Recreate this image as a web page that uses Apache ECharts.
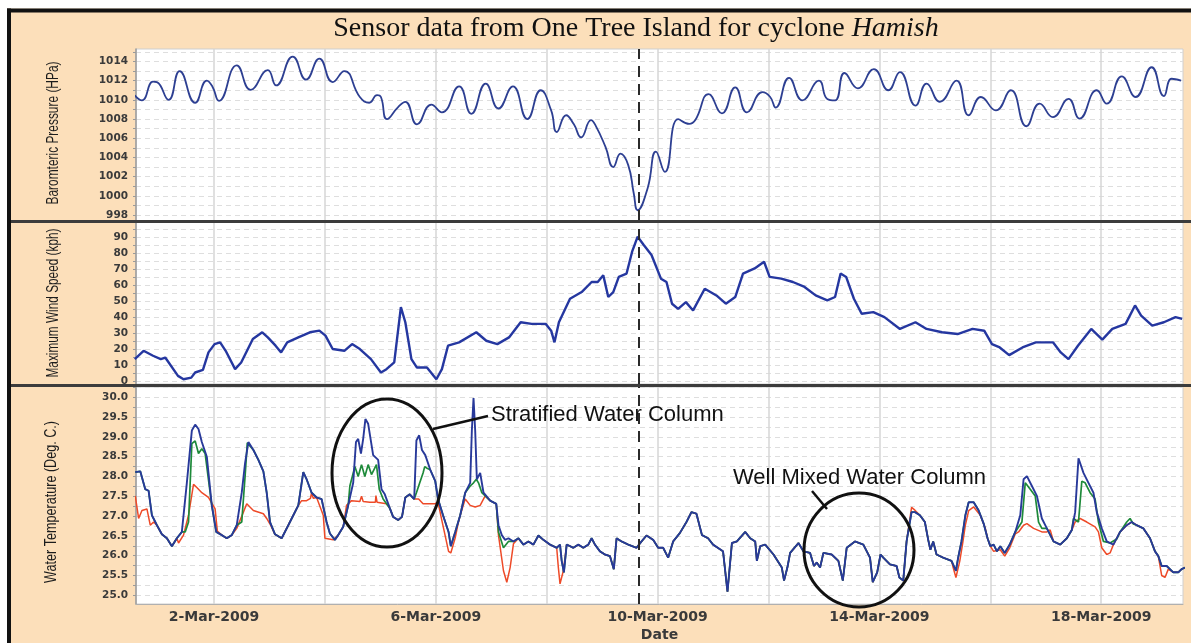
<!DOCTYPE html>
<html><head><meta charset="utf-8">
<script src="https://cdn.jsdelivr.net/npm/echarts@6.0.0/dist/echarts.min.js"></script>
<style>html,body{margin:0;padding:0;background:#fff}#c{width:1191px;height:643px}</style>
</head><body><div id="c"></div>
<script>
// ---- DATA (x = day of March 2009, 2.0 = 2-Mar-2009 00:00) ----
const xLabelDays = [2, 6, 10, 14, 18];
const xGridDays = [2, 4, 6, 8, 10, 12, 14, 16, 18];
const cycloneDay = 9.66;

const pressureTicks = [998, 1000, 1002, 1004, 1006, 1008, 1010, 1012, 1014];
const windTicks = [0, 10, 20, 30, 40, 50, 60, 70, 80, 90];
const tempTicks = [25.0, 25.5, 26.0, 26.5, 27.0, 27.5, 28.0, 28.5, 29.0, 29.5, 30.0];

const pressure = [[0.57,1010.47],[0.70,1009.95],[0.90,1011.9],[0.97,1011.85],[1.18,1010.0],[1.38,1013.0],[1.66,1009.7],[1.87,1012.0],[1.97,1011.4],[2.09,1009.9],[2.41,1013.6],[2.66,1011.05],[2.97,1013.1],[3.12,1011.5],[3.42,1014.5],[3.66,1012.1],[3.90,1014.3],[4.14,1011.85],[4.35,1013.0],[4.63,1010.3],[4.80,1009.7],[4.94,1010.5],[5.01,1010.3],[5.12,1008.0],[5.32,1009.25],[5.45,1009.8],[5.66,1007.45],[5.92,1009.5],[6.11,1008.7],[6.42,1011.4],[6.64,1008.55],[6.90,1011.7],[7.13,1009.1],[7.39,1011.4],[7.65,1008.0],[7.89,1011.0],[8.08,1008.9],[8.18,1006.65],[8.35,1008.4],[8.49,1007.45],[8.62,1006.1],[8.80,1007.9],[8.88,1007.35],[9.06,1005.1],[9.20,1003.0],[9.33,1004.4],[9.47,1003.2],[9.57,1000.25],[9.64,998.5],[9.82,1000.8],[9.97,1004.6],[10.13,1002.5],[10.37,1008.0],[10.57,1007.5],[10.68,1007.9],[10.92,1010.6],[11.16,1008.6],[11.40,1011.3],[11.61,1008.7],[11.89,1010.8],[12.03,1010.3],[12.13,1009.2],[12.37,1012.3],[12.61,1009.95],[12.91,1012.0],[13.06,1010.1],[13.20,1009.95],[13.37,1012.8],[13.61,1011.2],[13.90,1013.2],[14.16,1011.0],[14.37,1012.9],[14.65,1009.4],[14.85,1011.7],[15.09,1009.8],[15.39,1012.0],[15.61,1008.4],[15.83,1010.3],[16.10,1008.9],[16.37,1011.0],[16.65,1007.25],[16.89,1009.6],[17.13,1008.2],[17.41,1010.1],[17.61,1008.05],[17.92,1011.0],[18.10,1009.6],[18.37,1012.45],[18.62,1010.3],[18.91,1013.4],[19.13,1010.4],[19.27,1012.2],[19.44,1012.0]];

const wind = [[0.57,13.7],[0.73,18.9],[0.90,15.8],[1.04,13.7],[1.12,14.7],[1.35,3.2],[1.45,1.1],[1.59,2.1],[1.66,5.3],[1.80,6.9],[1.90,17.9],[2.01,23.1],[2.11,24.2],[2.21,18.9],[2.38,7.4],[2.49,11.6],[2.70,26.3],[2.87,30.5],[2.97,27.3],[3.11,22.1],[3.21,17.9],[3.32,24.2],[3.52,27.3],[3.73,30.5],[3.90,31.5],[4.01,28.4],[4.14,20.0],[4.35,18.9],[4.49,23.1],[4.63,20.0],[4.83,13.7],[5.01,5.3],[5.11,7.4],[5.25,11.6],[5.37,46.3],[5.45,36.8],[5.56,13.7],[5.66,8.4],[5.84,8.4],[6.01,1.1],[6.11,7.4],[6.22,22.1],[6.42,24.2],[6.73,30.5],[6.91,25.2],[7.11,23.1],[7.32,27.3],[7.53,36.8],[7.73,35.8],[7.98,35.8],[8.08,31.5],[8.14,24.2],[8.22,36.8],[8.42,51.5],[8.63,55.7],[8.81,62.0],[8.92,62.0],[9.02,66.2],[9.11,52.6],[9.20,55.7],[9.30,65.2],[9.44,67.3],[9.54,81.0],[9.64,90.4],[9.75,85.2],[9.89,78.9],[10.06,64.1],[10.16,62.0],[10.26,48.4],[10.37,45.2],[10.51,49.4],[10.64,44.2],[10.85,57.8],[11.06,53.6],[11.23,48.4],[11.40,52.6],[11.54,67.3],[11.75,70.5],[11.92,74.7],[12.02,65.2],[12.23,64.1],[12.44,62.0],[12.65,58.9],[12.85,53.6],[13.06,50.5],[13.20,52.6],[13.30,67.3],[13.40,65.2],[13.54,51.5],[13.68,42.1],[13.89,43.1],[14.09,40.0],[14.37,32.6],[14.65,36.8],[14.85,32.6],[15.13,30.5],[15.41,29.4],[15.68,32.6],[15.89,31.5],[16.03,23.1],[16.17,21.0],[16.34,16.2],[16.58,21.0],[16.82,24.2],[17.13,24.2],[17.27,17.9],[17.41,13.7],[17.58,22.1],[17.82,32.6],[18.02,25.9],[18.20,32.6],[18.44,35.8],[18.61,47.3],[18.72,41.0],[18.92,34.7],[19.13,36.8],[19.34,40.0],[19.46,38.9]];

// upper sensor (blue)
const tempTop = [[0.58,28.11],[0.67,28.13],[0.76,27.68],[0.82,27.64],[0.88,27.02],[0.97,26.77],[1.06,26.54],[1.15,26.44],[1.24,26.24],[1.33,26.44],[1.42,26.6],[1.51,27.84],[1.60,29.16],[1.66,29.31],[1.72,29.2],[1.78,28.87],[1.87,28.5],[1.96,27.27],[2.04,26.6],[2.14,26.52],[2.23,26.44],[2.32,26.52],[2.41,26.77],[2.50,27.59],[2.56,28.34],[2.62,28.87],[2.71,28.67],[2.80,28.42],[2.89,28.13],[2.95,27.59],[3.01,26.85],[3.10,26.54],[3.22,26.44],[3.34,26.77],[3.43,27.02],[3.52,27.27],[3.61,28.11],[3.67,27.93],[3.76,27.59],[3.85,27.47],[3.94,27.43],[4.03,26.85],[4.09,26.56],[4.18,26.4],[4.24,26.52],[4.33,26.73],[4.42,27.27],[4.51,27.84],[4.56,28.87],[4.60,28.95],[4.65,28.58],[4.69,28.95],[4.73,29.45],[4.78,29.33],[4.87,28.54],[4.96,28.42],[5.02,27.68],[5.08,27.55],[5.17,27.2],[5.23,26.98],[5.32,26.9],[5.39,26.98],[5.45,27.47],[5.53,27.55],[5.61,27.43],[5.65,28.91],[5.70,29.04],[5.75,28.67],[5.81,28.54],[5.90,28.17],[5.99,27.88],[6.04,27.43],[6.13,27.02],[6.23,26.6],[6.27,26.24],[6.35,26.6],[6.44,27.02],[6.53,27.59],[6.62,27.84],[6.65,29.16],[6.68,29.98],[6.71,29.16],[6.74,27.93],[6.80,28.09],[6.86,27.59],[6.98,27.39],[7.09,27.31],[7.13,26.77],[7.19,26.52],[7.25,26.4],[7.31,26.44],[7.40,26.36],[7.49,26.44],[7.58,26.28],[7.67,26.36],[7.76,26.28],[7.85,26.51],[7.94,26.4],[8.06,26.28],[8.18,26.2],[8.24,26.28],[8.27,25.87],[8.31,25.58],[8.36,26.28],[8.42,26.24],[8.48,26.2],[8.57,26.28],[8.66,26.2],[8.75,26.28],[8.81,26.44],[8.87,26.28],[8.96,26.11],[9.05,26.03],[9.14,25.99],[9.21,25.66],[9.26,26.44],[9.35,26.36],[9.47,26.28],[9.62,26.2],[9.71,26.36],[9.80,26.51],[9.92,26.4],[10.01,26.2],[10.10,26.2],[10.19,25.95],[10.28,26.36],[10.40,26.57],[10.52,26.85],[10.61,27.1],[10.70,27.06],[10.80,26.52],[10.91,26.44],[11.00,26.28],[11.18,26.11],[11.26,25.09],[11.34,26.32],[11.43,26.36],[11.58,26.6],[11.67,26.44],[11.76,26.36],[11.79,25.87],[11.85,26.24],[11.94,26.28],[12.09,26.03],[12.24,25.7],[12.28,25.37],[12.34,25.7],[12.39,26.07],[12.54,26.32],[12.63,26.11],[12.75,26.07],[12.82,25.74],[12.87,25.83],[12.93,25.7],[12.99,26.07],[13.14,26.03],[13.26,25.87],[13.34,25.37],[13.41,26.2],[13.56,26.36],[13.71,26.28],[13.83,25.95],[13.88,25.33],[13.96,25.58],[14.02,26.03],[14.07,25.95],[14.19,25.78],[14.31,25.74],[14.36,25.45],[14.43,25.37],[14.49,26.36],[14.58,27.1],[14.64,27.1],[14.73,27.02],[14.82,26.85],[14.88,26.4],[14.92,26.15],[14.97,26.36],[15.03,26.03],[15.15,25.95],[15.30,25.87],[15.38,25.62],[15.42,25.95],[15.48,26.36],[15.55,27.02],[15.61,27.35],[15.70,27.35],[15.79,27.14],[15.88,26.81],[15.95,26.44],[16.00,26.24],[16.06,26.28],[16.12,26.11],[16.18,26.24],[16.26,26.07],[16.35,26.28],[16.45,26.6],[16.54,27.02],[16.60,27.93],[16.66,28.01],[16.75,27.76],[16.84,27.51],[16.93,26.94],[17.02,26.69],[17.14,26.36],[17.26,26.28],[17.38,26.44],[17.47,26.65],[17.53,27.1],[17.59,28.46],[17.62,28.5],[17.68,28.09],[17.77,27.84],[17.86,27.59],[17.92,27.1],[18.01,26.69],[18.10,26.36],[18.22,26.28],[18.34,26.6],[18.46,26.77],[18.55,26.85],[18.64,26.77],[18.76,26.69],[18.88,26.44],[18.97,26.11],[19.03,25.99],[19.09,25.74],[19.18,25.74],[19.30,25.58],[19.39,25.58],[19.45,25.66],[19.51,25.7]];

// middle sensor (green): stretches where it departs from the top sensor
const tempMidSegments = [
  [[1.42,26.6],[1.48,26.6],[1.54,26.85],[1.60,28.83],[1.66,28.9],[1.72,28.58],[1.78,28.7],[1.84,28.58],[1.93,27.59],[1.96,27.27]],
  [[2.41,26.77],[2.50,26.85],[2.56,28.0],[2.60,28.85],[2.62,28.87]],
  [[4.42,27.27],[4.45,27.76],[4.54,28.25],[4.60,28.0],[4.66,28.3],[4.72,28.0],[4.78,28.3],[4.84,28.05],[4.93,28.3],[4.98,27.68],[5.05,27.43],[5.17,27.2]],
  [[5.61,27.43],[5.65,27.59],[5.71,27.84],[5.77,28.09],[5.80,28.25],[5.85,28.2],[5.90,28.17]],
  [[6.53,27.59],[6.62,27.76],[6.68,27.84],[6.73,27.93],[6.77,27.84],[6.83,27.59],[6.86,27.59]],
  [[7.09,27.31],[7.13,26.6],[7.22,26.2],[7.31,26.36],[7.40,26.36]],
  [[16.45,26.6],[16.57,26.85],[16.63,27.84],[16.72,27.68],[16.81,27.51],[16.87,26.85],[16.93,26.69],[17.02,26.69]],
  [[17.47,26.65],[17.50,26.94],[17.59,26.85],[17.65,27.88],[17.71,27.84],[17.80,27.59],[17.89,27.43],[17.95,26.85],[18.04,26.36],[18.16,26.32],[18.28,26.42]],
  [[18.34,26.6],[18.46,26.85],[18.52,26.94],[18.58,26.8],[18.64,26.77]]
];

// bottom sensor (red): stretches where it departs from the top sensor
const tempBottomSegments = [
  [[0.58,27.51],[0.64,26.94],[0.70,27.14],[0.79,27.18],[0.85,26.77],[0.91,26.85],[0.97,26.77]],
  [[1.33,26.44],[1.36,26.32],[1.45,26.52],[1.54,27.02],[1.63,27.8],[1.69,27.72],[1.78,27.59],[1.90,27.47],[2.02,27.18],[2.06,26.62],[2.14,26.52]],
  [[2.32,26.52],[2.41,26.69],[2.53,27.1],[2.59,27.31],[2.71,27.14],[2.89,27.06],[2.95,26.94],[3.01,26.8],[3.10,26.54]],
  [[3.52,27.27],[3.58,27.39],[3.67,27.39],[3.74,27.45],[3.76,27.59],[3.79,27.45],[3.85,27.47],[3.97,27.02],[4.00,26.44],[4.15,26.4],[4.24,26.52]],
  [[4.33,26.73],[4.39,27.27],[4.48,27.39],[4.63,27.37],[4.66,27.5],[4.69,27.37],[4.81,27.35],[4.91,27.35],[4.92,27.52],[4.94,27.35],[5.11,27.31],[5.17,27.2]],
  [[5.61,27.43],[5.69,27.43],[5.77,27.31],[5.89,27.31],[5.98,27.31],[6.04,27.35],[6.10,26.95]],
  [[6.13,26.9],[6.23,26.11],[6.27,26.07],[6.35,26.45],[6.40,26.8]],
  [[6.44,27.02],[6.53,27.43],[6.62,27.27],[6.71,27.23],[6.80,27.27],[6.89,27.51],[6.98,27.39]],
  [[7.09,27.31],[7.13,26.52],[7.22,25.62],[7.28,25.33],[7.34,25.7],[7.40,26.3],[7.49,26.44]],
  [[8.18,26.2],[8.21,25.7],[8.24,25.29],[8.30,25.62],[8.36,26.28]],
  [[14.49,26.36],[14.58,27.22],[14.64,27.15],[14.73,27.02]],
  [[15.30,25.87],[15.33,25.7],[15.38,25.45],[15.45,25.87],[15.50,26.3],[15.55,26.77],[15.61,27.14],[15.70,27.23],[15.82,27.02],[15.91,26.69],[15.95,26.44]],
  [[16.00,26.24],[16.06,26.11],[16.18,26.15],[16.26,25.99],[16.35,26.2],[16.45,26.55],[16.51,26.6],[16.60,26.77],[16.66,26.81],[16.78,26.69],[16.93,26.6],[17.02,26.6],[17.08,26.65],[17.14,26.36]],
  [[17.47,26.65],[17.53,26.85],[17.62,26.94],[17.74,26.85],[17.89,26.73],[17.95,26.6],[18.01,26.2],[18.10,26.03],[18.16,26.07],[18.22,26.28]],
  [[19.03,25.99],[19.09,25.5],[19.15,25.45],[19.21,25.66],[19.30,25.58]]
];

// ---- build ----
function withSegments(base, segs) {
  const out = base.filter(p => !segs.some(s => p[0] >= s[0][0] && p[0] <= s[s.length - 1][0]));
  segs.forEach(s => s.forEach(p => out.push(p)));
  return out.sort((a, b) => a[0] - b[0]);
}
const tempMid = withSegments(tempTop, tempMidSegments);
const tempBottom = withSegments(tempTop, tempBottomSegments);

function steps(a, b, s) { const r = []; for (let v = a; v <= b + 1e-9; v += s) r.push(+v.toFixed(4)); return r; }

const X_MIN = 0.593, X_MAX = 19.475;
const LEFT = 136, WIDTH = 1047;
const PEACH = '#FCDFBA';
const labelFont = { color: '#3a3a3a', fontFamily: 'DejaVu Sans', fontWeight: 'bold' };

const grids = [
  { left: LEFT, top: 49, width: WIDTH, height: 172 },
  { left: LEFT, top: 222, width: WIDTH, height: 162 },
  { left: LEFT, top: 387, width: WIDTH, height: 222 }
].map(g => Object.assign(g, { show: true, backgroundColor: '#fff', borderColor: '#cfcfcf', borderWidth: 1 }));

const xAxes = [0, 1, 2].map(i => ({
  type: 'value', gridIndex: i, min: X_MIN, max: X_MAX,
  axisLine: { show: i === 2, onZero: false, lineStyle: { color: '#b0b0b0' } },
  axisTick: { show: false, customValues: xGridDays },
  axisLabel: { show: i === 2, customValues: xLabelDays, formatter: v => Math.round(v) + '-Mar-2009', fontSize: 14, margin: 6, ...labelFont },
  splitLine: { show: true, lineStyle: { color: '#d6d6d6', width: 1.5 } },
  name: i === 2 ? 'Date' : '', nameLocation: 'middle', nameGap: 24,
  nameTextStyle: { fontSize: 14, ...labelFont }
}));

function yAxis(i, min, max, labels, minor, fmt) {
  return {
    type: 'value', gridIndex: i, min, max,
    axisLine: { show: true, lineStyle: { color: '#9a9a9a', width: 1.5 } },
    axisTick: { show: true, customValues: minor, length: 3, lineStyle: { color: '#9a9a9a' } },
    axisLabel: { customValues: labels, formatter: fmt, fontSize: 10.5, margin: 8, ...labelFont },
    splitLine: { show: true, lineStyle: { color: '#dedede', type: [5, 4], width: 1 } }
  };
}
const yAxes = [
  yAxis(0, 997.38, 1015.3, pressureTicks, steps(998, 1015, 1), v => String(v)),
  yAxis(1, -1.9, 99.6, windTicks, steps(0, 95, 5), v => String(v)),
  yAxis(2, 24.78, 30.26, tempTicks, steps(25, 30.25, 0.25), v => v.toFixed(1))
];

const cycloneMark = {
  symbol: 'none', silent: true, label: { show: false },
  lineStyle: { color: '#2a2a2a', type: [11, 7], width: 2 },
  data: [{ xAxis: cycloneDay }]
};

const series = [
  { type: 'line', xAxisIndex: 0, yAxisIndex: 0, data: pressure, showSymbol: false, smooth: 0.5,
    lineStyle: { color: '#2D3F92', width: 1.8 }, markLine: cycloneMark },
  { type: 'line', xAxisIndex: 1, yAxisIndex: 1, data: wind, showSymbol: false,
    lineStyle: { color: '#2537A0', width: 2.4 }, markLine: cycloneMark },
  { type: 'line', xAxisIndex: 2, yAxisIndex: 2, data: tempBottom, showSymbol: false,
    lineStyle: { color: '#EE4A28', width: 1.5 } },
  { type: 'line', xAxisIndex: 2, yAxisIndex: 2, data: tempMid, showSymbol: false,
    lineStyle: { color: '#1E8A3A', width: 1.7 } },
  { type: 'line', xAxisIndex: 2, yAxisIndex: 2, data: tempTop, showSymbol: false,
    lineStyle: { color: '#28399A', width: 1.9 }, markLine: cycloneMark }
];

// rotated axis titles, squeezed to the narrow width of the original lettering
const TITLE_FONT = '17px "Liberation Sans", Arial, sans-serif';
const measureCtx = document.createElement('canvas').getContext('2d');
measureCtx.font = TITLE_FONT;
function axisTitle(text, x, y, length) {
  const w = measureCtx.measureText(text).width || length;
  return { type: 'text', z: 10, x, y, rotation: Math.PI / 2, scaleX: length / w, scaleY: 1,
    style: { text, font: TITLE_FONT, fill: '#1c1c1c', align: 'center', verticalAlign: 'middle', textAlign: 'center', textVerticalAlign: 'middle' } };
}
const annotFont = '22px "Liberation Sans", Arial, sans-serif';

const graphic = [
  { type: 'rect', z: -10, shape: { x: 7, y: 8.5, width: 1184, height: 635 }, style: { fill: PEACH } },
  { type: 'line', z: 10, shape: { x1: 9, y1: 8.5, x2: 9, y2: 643 }, style: { stroke: '#111', lineWidth: 4 } },
  { type: 'line', z: 10, shape: { x1: 7, y1: 10.5, x2: 1191, y2: 10.5 }, style: { stroke: '#111', lineWidth: 4 } },
  { type: 'line', z: 10, shape: { x1: 11, y1: 221.5, x2: 1191, y2: 221.5 }, style: { stroke: '#3c3c3c', lineWidth: 3 } },
  { type: 'line', z: 10, shape: { x1: 11, y1: 385.5, x2: 1191, y2: 385.5 }, style: { stroke: '#3c3c3c', lineWidth: 3 } },
  { type: 'text', z: 10, x: 636, y: 29, style: {
      text: '{n|Sensor data from One Tree Island for cyclone }{i|Hamish}',
      rich: { n: { font: '28px "Liberation Serif", "Times New Roman", serif', fill: '#111' },
              i: { font: 'italic 28px "Liberation Serif", "Times New Roman", serif', fill: '#111' } },
      align: 'center', verticalAlign: 'middle', textAlign: 'center', textVerticalAlign: 'middle' } },
  axisTitle('Baromteric Pressure (HPa)', 53, 133, 143),
  axisTitle('Maximum Wind Speed (kph)', 53, 303, 149),
  axisTitle('Water Temperature (Deg. C.)', 51, 502, 162),
  { type: 'ellipse', z: 20, shape: { cx: 387, cy: 473, rx: 55, ry: 74 }, style: { fill: null, stroke: '#111', lineWidth: 3 } },
  { type: 'line', z: 20, shape: { x1: 433, y1: 429, x2: 488, y2: 416 }, style: { stroke: '#111', lineWidth: 2.5 } },
  { type: 'text', z: 20, x: 491, y: 415, style: { text: 'Stratified Water Column', font: annotFont, fill: '#111', verticalAlign: 'middle', textVerticalAlign: 'middle' } },
  { type: 'ellipse', z: 20, shape: { cx: 859, cy: 550, rx: 55, ry: 57 }, style: { fill: null, stroke: '#111', lineWidth: 3 } },
  { type: 'line', z: 20, shape: { x1: 812, y1: 491, x2: 827, y2: 509 }, style: { stroke: '#111', lineWidth: 2.5 } },
  { type: 'text', z: 20, x: 733, y: 478, style: { text: 'Well Mixed Water Column', font: annotFont, fill: '#111', verticalAlign: 'middle', textVerticalAlign: 'middle' } }
];

const chart = echarts.init(document.getElementById('c'), null, { renderer: 'canvas' });
chart.setOption({
  backgroundColor: '#fff',
  animation: false,
  grid: grids,
  xAxis: xAxes,
  yAxis: yAxes,
  series,
  graphic
});
</script></body></html>
